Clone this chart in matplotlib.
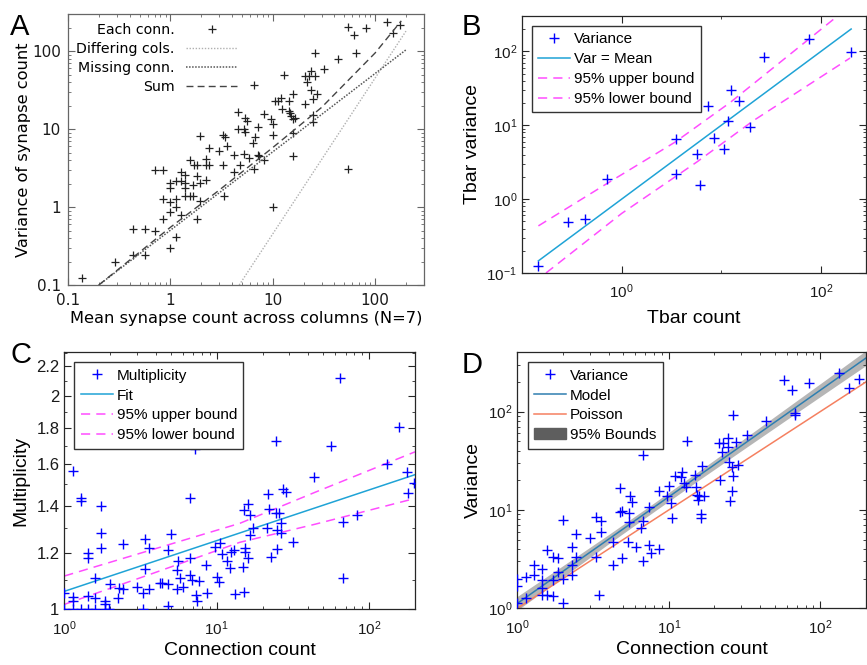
import numpy as np
import matplotlib
matplotlib.use("Agg")
import matplotlib.pyplot as plt
from matplotlib.ticker import LogLocator, NullFormatter, FixedLocator, FixedFormatter
from matplotlib.lines import Line2D
from matplotlib.patches import Patch

plt.rcParams['mathtext.fontset'] = 'custom'
plt.rcParams['mathtext.rm'] = 'Liberation Sans'
plt.rcParams['mathtext.it'] = 'Liberation Sans:italic'
plt.rcParams['mathtext.bf'] = 'Liberation Sans:bold'

# ---------------- Panel A data ----------------
A_pts = [(0.138,0.122),(0.29,0.2),(0.43,0.53),(0.43,0.244),(0.57,0.53),(0.57,0.244),(0.70,0.50),(0.70,3.0),
         (0.85,3.0),(0.85,1.28),(0.85,0.70),(1.0,2.04),(1.0,1.75),(1.0,1.17),(1.0,0.86),(1.0,0.30),(1.14,2.14),
         (1.14,1.28),(1.14,1.0),(1.14,0.41),(1.26,2.79),(1.26,2.14),(1.26,0.80),(1.40,2.55),(1.40,2.04),(1.40,1.75),
         (1.40,1.40),(1.57,4.06),(1.57,1.40),(1.65,1.94),(1.65,1.40),(1.72,3.43),(1.82,3.43),(1.82,2.48),(1.82,0.70),
         (1.96,8.1),(1.96,2.04),(1.96,1.18),(2.25,4.14),(2.25,3.43),(2.25,2.25),(2.40,5.74),(2.40,3.43),(2.96,5.2),
         (3.27,8.5),(3.27,3.43),(3.37,1.40),(3.45,7.9),(3.57,6.0),(4.15,4.7),(4.15,2.79),(4.54,16.7),(4.54,9.9),
         (4.75,3.43),(5.2,9.9),(5.2,4.85),(5.4,13.9),(5.4,9.2),(5.6,12.6),(5.8,4.27),(6.4,6.65),(6.5,3.08),(6.6,36.3),
         (6.75,7.9),(7.1,10.7),(7.1,4.7),(7.3,4.5),(8.3,4.06),(8.3,15.7),(9.7,13.3),(10,8.3),(10,11.8),(10,1.0),
         (10.6,22.8),(11.2,22.8),(11.9,25.2),(12.3,17.9),(12.8,50),(14.4,22.8),(14.4,17.0),(14.8,16.2),(15.2,14.6),
         (15.8,28.4),(15.8,13.3),(15.8,8.9),(15.8,4.57),(16.6,14),(20.8,47.9),(20.8,21.0),(21.6,40),(22.4,47.9),
         (23.5,55.6),(23.5,32),(24.7,24),(24.7,15.4),(24.7,12.3),(26,47.9),(26,93.6),(27,28.4),(31.4,58.3),(43,80),
         (54.2,206),(54.2,3.11),(62.5,160),(65.5,93.6),(81.9,200),(130,237),(149,173),(173,214)]
A_mean = [p[0] for p in A_pts]
A_var = [p[1] for p in A_pts]
A_diff_x = [4.7, 200]
A_diff_y = [0.1, 181]
A_miss_x = [0.2, 200]
A_miss_y = [0.1, 104]
A_sum_x = [0.2, 1, 3, 10, 30, 100, 180]
A_sum_y = [0.1, 0.55, 1.65, 5.8, 19, 95, 245]
A_ticks = [0.1, 1, 10, 100]
A_ticklabels = ['0.1', '1', '10', '100']

# ---------------- Panel B data ----------------
B_count = [0.146,0.287,0.43,0.707,3.48,3.48,5.66,6.1,7.3,8.4,10.5,11.7,12.5,15,19.4,27,76.4,199]
B_var = [0.124,0.49,0.53,1.89,6.5,2.21,4.1,1.54,18.3,6.7,4.8,11.3,30,21.3,9.55,84,148,98]
B_eq_x = [0.146, 200]
B_eq_y = [0.146, 200]
B_up_x = [0.146, 0.71, 3.43, 12.2, 144]
B_up_y = [0.434, 1.62, 5.9, 20.2, 295]
B_lo_x = [0.174, 1.0, 5.66, 20.9, 195]
B_lo_y = [0.1, 0.64, 3.17, 11.5, 81]

# ---------------- Panel C data ----------------
C_pts = [(1,1.053),(1,1.0),(1.134,1.042),(1.134,1.028),(1.134,1.0),(1.146,1.566),(1.28,1.437),(1.28,1.42),(1.28,1.0),
         (1.44,1.20),(1.44,1.18),(1.44,1.044),(1.44,1.0),(1.59,1.106),(1.59,1.038),(1.59,1.0),(1.73,1.40),(1.73,1.28),
         (1.73,1.219),(1.85,1.027),(1.85,1.016),(1.85,1.0),(1.97,1.0),(2.0,1.084),(2.26,1.036),(2.30,1.07),(2.44,1.236),
         (2.44,1.067),(2.98,1.076),(3.30,1.053),(3.30,1.0),(3.40,1.255),(3.40,1.139),(3.60,1.219),(3.60,1.068),
         (4.25,1.088),(4.35,1.088),(4.77,1.212),(4.77,1.011),(4.82,1.085),(5.01,1.276),(5.46,1.136),(5.46,1.067),
         (5.6,1.17),(5.74,1.106),(5.98,1.074),(6.68,1.433),(6.68,1.18),(6.68,1.118),(6.85,1.1),(7.2,1.68),(7.3,1.048),
         (7.4,1.028),(7.6,1.096),(8.51,1.155),(8.6,1.053),(9.75,1.225),(10.0,1.112),(10.3,1.094),(10.5,1.239),
         (10.8,1.197),(11.6,1.17),(12.2,1.142),(12.5,1.206),(12.9,1.212),(13.2,1.05),(14.8,1.148),(15.0,1.38),
         (15.2,1.059),(15.3,1.219),(15.3,1.206),(16.0,1.407),(16.0,1.18),(16.6,1.36),(16.6,1.273),(17.2,1.30),
         (21.3,1.30),(21.8,1.454),(22.2,1.387),(22.6,1.184),(24.5,1.727),(24.5,1.368),(25,1.294),(25,1.216),
         (25.7,1.368),(26.6,1.282),(26.6,1.325),(27.4,1.48),(28.3,1.462),(31.9,1.245),(43.5,1.538),(56.3,1.70),
         (64.5,2.117),(67.9,1.329),(67.9,1.108),(83,1.36),(131,1.60),(156,1.805),(177,1.56),(181,1.46),(196,1.505)]
C_count = [p[0] for p in C_pts]
C_mult = [p[1] for p in C_pts]
C_fit_x = [1.0, 200]
C_fit_y = [1.060, 1.548]
C_up_x = [1.0, 3.65, 14.2, 44.2, 200]
C_up_y = [1.114, 1.211, 1.322, 1.462, 1.667]
C_lo_x = [1.0, 3.65, 14.2, 44.2, 200]
C_lo_y = [1.016, 1.12, 1.243, 1.318, 1.433]
C_yticks = [1, 1.2, 1.4, 1.6, 1.8, 2, 2.2]
C_yticklabels = ['1', '1.2', '1.4', '1.6', '1.8', '2', '2.2']

# ---------------- Panel D data ----------------
D_pts = [(1.0,1.97),(1.0,1.69),(1.0,1.14),(1.15,2.1),(1.15,1.26),(1.29,2.76),(1.29,2.18),(1.45,2.51),(1.45,1.94),
         (1.45,1.6),(1.45,1.37),(1.57,3.92),(1.57,1.37),(1.72,3.35),(1.72,1.94),(1.72,1.33),(1.86,3.27),(1.86,2.36),
         (2.0,7.9),(2.0,1.97),(2.0,1.14),(2.28,4.24),(2.28,2.76),(2.28,2.18),(2.43,5.66),(2.43,3.35),(3.0,5.15),
         (3.32,8.4),(3.32,3.35),(3.44,1.37),(3.58,7.79),(3.58,6.02),(4.27,4.76),(4.27,2.76),(4.73,16.6),(4.73,9.6),
         (4.93,9.84),(4.93,3.27),(5.36,4.76),(5.44,9.25),(5.58,13.7),(5.73,11.9),(5.5,7.6),(6.03,4.24),(6.6,6.5),
         (6.73,36.3),(6.8,3.05),(6.8,7.79),(7.37,4.41),(7.45,10.6),(7.6,3.68),(8.58,15.6),(8.58,3.98),(9.68,14.0),
         (10.1,17.5),(10.3,11.7),(10.5,8.2),(10.9,22.3),(12.0,21.8),(12.3,24.5),(12.6,18.7),(12.9,17.0),(13.2,50.3),
         (14.9,22.7),(15.1,17.0),(15.3,14.2),(15.5,12.6),(15.9,13.7),(16.3,9.1),(16.3,8.36),(16.5,28.0),(17.1,13.7),
         (21.3,47.6),(21.7,20.2),(22.3,39.2),(22.9,47.6),(24.7,53.6),(24.7,44),(25,31),(25.2,12.2),(26,27.2),
         (26.3,15.4),(26.5,22.3),(26.7,92.5),(27.6,49.5),(28.7,28.7),(32.6,57.9),(44,80.4),(57.4,210),(65.2,164),
         (67.8,96.2),(68.5,92.5),(83.8,197),(132,245),(155,173),(180,213)]
D_count = [p[0] for p in D_pts]
D_var = [p[1] for p in D_pts]
D_model_x = [1.0, 200]
D_model_y = [1.12, 350]
D_pois_x = [1.0, 200]
D_pois_y = [1.0, 200]
D_band_x = [1, 2, 4, 8, 16, 32, 64, 128, 200]
D_band_lo = [0.955, 2.07, 4.52, 9.64, 20.4, 42.6, 88.7, 184, 294]
D_band_hi = [1.32, 2.71, 5.61, 11.8, 25.2, 54.1, 117, 253, 417]

# ---------------- figure ----------------
W, H = 867, 665
fig = plt.figure(figsize=(W / 100, H / 100), dpi=100)

def rect(l, r, t, b):
    return [l / W, 1 - b / H, (r - l) / W, (b - t) / H]

SANS = 'Liberation Sans'
BLUE = '#0000ff'
CYAN = '#1fa3d6'
MAG = '#ff4dff'
SPINE = '#262626'

def style_ax(ax, color, labelsize, family):
    for s in ax.spines.values():
        s.set_color(color)
        s.set_linewidth(0.9)
    ax.tick_params(which='both', direction='in', top=True, right=True, colors=color,
                   labelcolor='#1a1a1a', labelsize=labelsize)
    ax.tick_params(which='major', length=5, width=0.8)
    ax.tick_params(which='minor', length=2.5, width=0.6)
    for lab in ax.get_xticklabels() + ax.get_yticklabels():
        lab.set_family(family)

# ---------- A ----------
axA = fig.add_axes(rect(68, 424, 14, 285))
axA.set_xscale('log'); axA.set_yscale('log')
axA.plot(A_mean, A_var, ls='none', marker='+', ms=5.5, mew=0.9, color='#222222', label='Each conn.')
axA.plot(A_diff_x, A_diff_y, ls=(0, (1, 1.2)), lw=1.0, color='#b0b0b0', label='Differing cols.')
axA.plot(A_miss_x, A_miss_y, ls=(0, (1, 1)), lw=1.1, color='#555555', label='Missing conn.')
axA.plot(A_sum_x, A_sum_y, ls=(0, (5, 3)), lw=1.0, color='#444444', label='Sum')
axA.set_xlim(0.1, 300); axA.set_ylim(0.1, 300)
axA.xaxis.set_major_locator(FixedLocator(A_ticks))
axA.xaxis.set_major_formatter(FixedFormatter(A_ticklabels))
axA.yaxis.set_major_locator(FixedLocator(A_ticks))
axA.yaxis.set_major_formatter(FixedFormatter(A_ticklabels))
for axis in (axA.xaxis, axA.yaxis):
    axis.set_minor_locator(LogLocator(base=10, subs=np.arange(2, 10), numticks=20))
    axis.set_minor_formatter(NullFormatter())
style_ax(axA, '#666666', 11, 'DejaVu Sans')
axA.tick_params(axis='x', pad=6)
axA.tick_params(axis='y', pad=5)
axA.set_xlabel('Mean synapse count across columns (N=7)', fontsize=11.7, family='DejaVu Sans', labelpad=2)
axA.set_ylabel('Variance of synapse count', fontsize=11.7, family='DejaVu Sans', labelpad=1)
legA = axA.legend(loc='upper left', bbox_to_anchor=(0.0, 1.0), borderaxespad=0.2, frameon=False,
                  markerfirst=False, numpoints=1, handlelength=3.6, handletextpad=0.8, labelspacing=0.36,
                  prop={'family': 'DejaVu Sans', 'size': 10.2})
legA._legend_box.align = 'right'

# ---------- B ----------
axB = fig.add_axes(rect(522, 866, 16, 273))
axB.set_xscale('log'); axB.set_yscale('log')
axB.plot(B_count, B_var, ls='none', marker='+', ms=7.5, mew=1.0, color=BLUE, label='Variance', zorder=3)
axB.plot(B_eq_x, B_eq_y, color=CYAN, lw=1.1, label='Var = Mean')
axB.plot(B_up_x, B_up_y, color=MAG, lw=1.1, ls=(0, (6, 4)), label='95% upper bound')
axB.plot(B_lo_x, B_lo_y, color=MAG, lw=1.1, ls=(0, (6, 4)), label='95% lower bound')
axB.set_xlim(0.1, 10 ** 2.45); axB.set_ylim(0.1, 300)
axB.xaxis.set_major_locator(FixedLocator([1, 100]))
axB.xaxis.set_minor_locator(FixedLocator([0.1, 10]))
axB.xaxis.set_minor_formatter(NullFormatter())
axB.yaxis.set_major_locator(LogLocator(base=10, numticks=10))
axB.yaxis.set_minor_locator(LogLocator(base=10, subs=np.arange(2, 10), numticks=20))
axB.yaxis.set_minor_formatter(NullFormatter())
style_ax(axB, SPINE, 11, SANS)
axB.tick_params(axis='x', pad=7)
axB.set_xlabel('Tbar count', fontsize=14, family=SANS, labelpad=6)
axB.set_ylabel('Tbar variance', fontsize=14, family=SANS, labelpad=4)

def matlab_legend(ax, handles=None, anchor=(0.03, 0.96)):
    kw = dict(loc='upper left', bbox_to_anchor=anchor, borderaxespad=0, fancybox=False,
              framealpha=1, edgecolor='#333333', numpoints=1, handlelength=2.1,
              handletextpad=0.25, labelspacing=0.38, borderpad=0.42,
              prop={'family': SANS, 'size': 11.0})
    if handles is not None:
        leg = ax.legend(handles=handles, **kw)
    else:
        leg = ax.legend(**kw)
    leg.get_frame().set_linewidth(1.0)
    leg.set_zorder(5)
    return leg

matlab_legend(axB, anchor=(0.029, 0.961))

# ---------- C ----------
axC = fig.add_axes(rect(64.3, 415, 352, 609.3))
axC.set_xscale('log'); axC.set_yscale('log')
axC.plot(C_count, C_mult, ls='none', marker='+', ms=7.5, mew=1.0, color=BLUE, label='Multiplicity', zorder=3)
axC.plot(C_fit_x, C_fit_y, color=CYAN, lw=1.1, label='Fit')
axC.plot(C_up_x, C_up_y, color=MAG, lw=1.1, ls=(0, (6, 4)), label='95% upper bound')
axC.plot(C_lo_x, C_lo_y, color=MAG, lw=1.1, ls=(0, (6, 4)), label='95% lower bound')
axC.set_xlim(1, 200); axC.set_ylim(1, 2.305)
axC.xaxis.set_major_locator(LogLocator(base=10, numticks=10))
axC.xaxis.set_minor_locator(LogLocator(base=10, subs=np.arange(2, 10), numticks=20))
axC.xaxis.set_minor_formatter(NullFormatter())
axC.yaxis.set_major_locator(FixedLocator(C_yticks))
axC.yaxis.set_major_formatter(FixedFormatter(C_yticklabels))
axC.yaxis.set_minor_locator(FixedLocator([1.1, 1.3, 1.5, 1.7, 1.9, 2.1, 2.3]))
axC.yaxis.set_minor_formatter(NullFormatter())
style_ax(axC, SPINE, 11, SANS)
axC.tick_params(axis='y', labelsize=12)
axC.tick_params(axis='x', pad=7)
axC.set_xlabel('Connection count', fontsize=14, family=SANS, labelpad=3)
axC.set_ylabel('Multiplicity', fontsize=14, family=SANS, labelpad=5)
matlab_legend(axC, anchor=(0.0285, 0.96))

# ---------- D ----------
axD = fig.add_axes(rect(517.3, 866, 352.3, 608.3))
axD.set_xscale('log'); axD.set_yscale('log')
axD.fill_between(D_band_x, D_band_lo, D_band_hi, color='#9e9e9e', alpha=0.75, lw=0, zorder=1)
axD.plot(D_count, D_var, ls='none', marker='+', ms=7.5, mew=1.0, color=BLUE, zorder=3)
axD.plot(D_model_x, D_model_y, color='#2f7fb0', lw=1.1, zorder=2)
axD.plot(D_pois_x, D_pois_y, color='#f58060', lw=1.1, zorder=2)
axD.set_xlim(1, 200); axD.set_ylim(1, 400)
axD.xaxis.set_major_locator(LogLocator(base=10, numticks=10))
axD.xaxis.set_minor_locator(LogLocator(base=10, subs=np.arange(2, 10), numticks=20))
axD.xaxis.set_minor_formatter(NullFormatter())
axD.yaxis.set_major_locator(LogLocator(base=10, numticks=10))
axD.yaxis.set_minor_locator(LogLocator(base=10, subs=np.arange(2, 10), numticks=20))
axD.yaxis.set_minor_formatter(NullFormatter())
style_ax(axD, SPINE, 11, SANS)
axD.tick_params(axis='x', pad=7)
axD.set_xlabel('Connection count', fontsize=14, family=SANS, labelpad=3)
axD.set_ylabel('Variance', fontsize=14, family=SANS, labelpad=4)
hD = [Line2D([], [], ls='none', marker='+', ms=7.5, mew=1.0, color=BLUE, label='Variance'),
      Line2D([], [], color='#2f7fb0', lw=1.1, label='Model'),
      Line2D([], [], color='#f58060', lw=1.1, label='Poisson'),
      Patch(facecolor='#5e5e5e', edgecolor='#5e5e5e', label='95% Bounds')]
matlab_legend(axD, handles=hD, anchor=(0.03, 0.961))

# ---------- panel letters ----------
for letter, x, y in [('A', 10, 35), ('B', 462, 35), ('C', 10, 363), ('D', 462, 373)]:
    fig.text(x / W, 1 - y / H, letter, fontsize=21, family=SANS, ha='left', va='baseline')

fig.savefig('out.png', dpi=100)
